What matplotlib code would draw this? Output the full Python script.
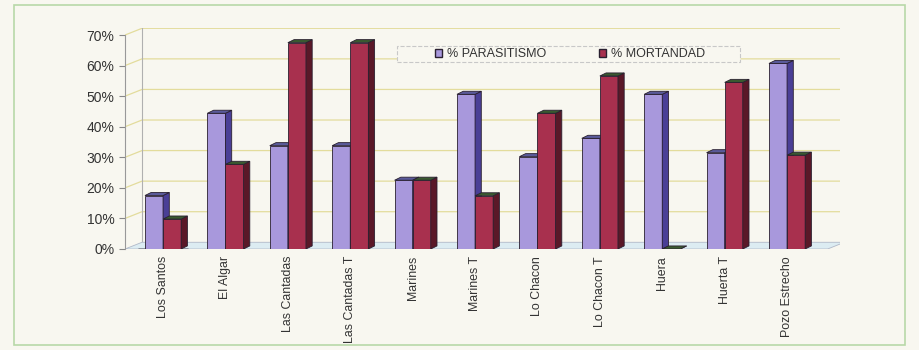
import matplotlib.pyplot as plt
from matplotlib.patches import Polygon, Rectangle
import numpy as np

plt.rcParams['font.family'] = ['Liberation Sans', 'DejaVu Sans']

sites = ['Los Santos', 'El Algar', 'Las Cantadas', 'Las Cantadas T', 'Marines',
         'Marines T', 'Lo Chacon', 'Lo Chacon T', 'Huera', 'Huerta T', 'Pozo Estrecho']
parasitismo = [17.5, 44.4, 33.8, 33.8, 22.5, 50.6, 30.2, 36.2, 50.6, 31.5, 60.7]
mortandad = [9.8, 27.7, 67.5, 67.5, 22.5, 17.4, 44.4, 56.6, 0, 54.5, 30.7]

bg = '#f8f7f0'
fig = plt.figure(figsize=(9.19, 3.5), dpi=100)
fig.patch.set_facecolor(bg)
fig.add_artist(Rectangle((14 / 919, 5 / 350), 891 / 919, 340 / 350, transform=fig.transFigure,
                         fill=False, edgecolor='#b8d8a8', lw=1.2))

ax = fig.add_axes([125 / 919, 1 - 249 / 350, 715 / 919, 221 / 350])
ax.set_facecolor(bg)

n = len(sites)
x0 = -0.61
x1 = x0 + 715 / 62.4
xb = x0 + 17 / 62.4   # back wall
back = 2.2            # back wall lift (in %)
ax.set_xlim(x0, x1)
ax.set_ylim(0, 72.3)

# back wall, grid and floor
for v in range(10, 71, 10):
    ax.plot([x0, xb, x1], [v, v + back, v + back], color='#e3dc9c', lw=0.9, zorder=1)
ax.plot([xb, xb], [back, 70 + back], color='#b0b0b0', lw=0.8, zorder=1)
xr = n - 0.5 + 0.15
ax.add_patch(Polygon([(x0, 0), (xb, back), (xr + 0.27, back), (xr, 0)],
                     facecolor='#dcecf2', edgecolor='#b0b8c8', lw=0.6, zorder=1))

w = 0.29
dx, dy = 0.1, 1.0


def bar3d(x, h, front, side, top):
    ax.add_patch(Rectangle((x, 0), w, h, facecolor=front, edgecolor='#2a2030', lw=0.6, zorder=3))
    ax.add_patch(Polygon([(x + w, 0), (x + w + dx, dy), (x + w + dx, h + dy), (x + w, h)],
                         facecolor=side, edgecolor='#2a2030', lw=0.6, zorder=3))
    ax.add_patch(Polygon([(x, h), (x + dx, h + dy), (x + w + dx, h + dy), (x + w, h)],
                         facecolor=top, edgecolor='#2a2030', lw=0.6, zorder=3))


xs = np.arange(n)
for i in xs:
    bar3d(i - w, parasitismo[i], '#a898dc', '#4a3f96', '#5a5a9a')
    bar3d(i, mortandad[i], '#a8304e', '#5a1828', '#3a5a30')

ax.set_yticks(range(0, 71, 10))
ax.set_yticklabels([f'{v}%' for v in range(0, 71, 10)], fontsize=10, color='#333333')
ax.set_xticks(xs)
ax.set_xticklabels(sites, rotation=90, fontsize=8.9, color='#333333')
ax.tick_params(axis='x', length=0, pad=5)
ax.tick_params(axis='y', length=4, color='#888888')
for s in ['top', 'right', 'bottom']:
    ax.spines[s].set_visible(False)
ax.spines['left'].set_color('#999999')
ax.spines['left'].set_bounds(0, 70)

# legend
fig.add_artist(Rectangle((397 / 919, 1 - 62 / 350), 343 / 919, 16 / 350, transform=fig.transFigure,
                         facecolor=bg, edgecolor='#c8c8c8', ls='--', lw=0.8, zorder=4))
ax.bar([0], [0], color='#a898dc', edgecolor='#2a2030', label='% PARASITISMO')
ax.bar([0], [0], color='#a8304e', edgecolor='#2a2030', label='% MORTANDAD')
leg = fig.legend(loc='center', bbox_to_anchor=(570 / 919, 1 - 54 / 350), ncol=2, fontsize=9,
                 frameon=False, handlelength=0.6, handleheight=0.6, handletextpad=0.4,
                 columnspacing=4.2, borderpad=0)
leg.set_zorder(5)
for t in leg.get_texts():
    t.set_color('#333333')

fig.savefig('out.png', dpi=100, facecolor=bg)
